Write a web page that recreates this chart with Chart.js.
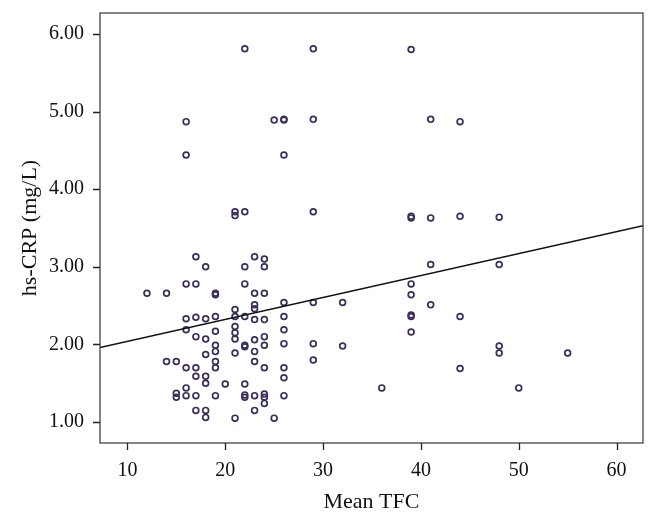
<!DOCTYPE html>
<html lang="en">
<head>
<meta charset="utf-8">
<title>hs-CRP vs Mean TFC</title>
<script src="https://cdn.jsdelivr.net/npm/chart.js@4/dist/chart.umd.min.js"></script>
<style>
html, body { margin: 0; padding: 0; background: #fff; }
#wrap { width: 658px; height: 520px; }
</style>
</head>
<body>
<div id="wrap"><canvas id="chart" width="658" height="520"></canvas></div>
<script>
// Mean TFC (x) and hs-CRP in mg/L (y)
const tfc = [
  22, 29, 39,
  16, 25, 26, 26, 29, 41, 44,
  16, 26,
  21, 21, 22, 29, 39, 39, 41, 44, 48,
  17, 18, 22, 23, 24, 24,
  16, 17, 22, 12, 14, 19, 19, 23, 24,
  26, 29, 32, 23, 23, 21, 21, 22, 23, 24, 26,
  16, 17, 18, 19, 16, 21, 21, 21, 26,
  17, 18, 19, 19, 19, 19, 19, 22, 22, 23, 24, 24, 26, 29, 32,
  23, 21, 18, 14, 15, 16, 17, 23, 24, 26, 29,
  17, 18, 18, 20, 22, 26,
  16, 15, 15, 16, 17, 19, 22, 22, 23, 24, 24, 24, 26,
  17, 18, 18, 21, 23, 25,
  41, 48, 39, 39, 41, 39, 39, 44, 39, 48, 48, 55, 44, 36, 50
];
const crp = [
  5.81, 5.81, 5.80,
  4.87, 4.89, 4.90, 4.89, 4.90, 4.90, 4.87,
  4.44, 4.44,
  3.71, 3.66, 3.71, 3.71, 3.65, 3.63, 3.63, 3.65, 3.64,
  3.13, 3.00, 3.00, 3.13, 3.10, 3.00,
  2.78, 2.78, 2.78, 2.66, 2.66, 2.66, 2.64, 2.66, 2.66,
  2.54, 2.54, 2.54, 2.51, 2.46, 2.45, 2.36, 2.36, 2.32, 2.32, 2.36,
  2.33, 2.35, 2.33, 2.36, 2.19, 2.23, 2.15, 2.07, 2.19,
  2.10, 2.07, 2.17, 1.99, 1.91, 1.78, 1.70, 1.99, 1.97, 2.06, 2.10, 1.99, 2.01, 2.01, 1.98,
  1.91, 1.89, 1.87, 1.78, 1.78, 1.70, 1.70, 1.78, 1.70, 1.70, 1.80,
  1.59, 1.59, 1.50, 1.49, 1.49, 1.57,
  1.44, 1.37, 1.32, 1.34, 1.34, 1.34, 1.35, 1.32, 1.34, 1.36, 1.32, 1.24, 1.34,
  1.15, 1.15, 1.06, 1.05, 1.15, 1.05,
  3.03, 3.03, 2.78, 2.64, 2.51, 2.38, 2.36, 2.36, 2.16, 1.98, 1.89, 1.89, 1.69, 1.44, 1.44
];
// fitted line end points (x, y)
const fitX = [7.2, 62.7];
const fitY = [1.96, 3.53];

const xTicks = [10, 20, 30, 40, 50, 60];
const yTicks = [1, 2, 3, 4, 5, 6];

const serif = '"Liberation Serif", "DejaVu Serif", serif';
const ink = '#3b2d5c';

// box round the plot area plus small outward tick marks
const frame = {
  id: 'frame',
  afterDraw(chart) {
    const a = chart.chartArea, c = chart.ctx;
    const xs = chart.scales.x, ys = chart.scales.y;
    c.save();
    c.strokeStyle = '#444';
    c.lineWidth = 1.3;
    c.strokeRect(a.left, a.top, a.right - a.left, a.bottom - a.top);
    c.lineWidth = 1.3;
    c.strokeStyle = '#222';
    c.beginPath();
    xTicks.forEach(v => {
      const px = Math.round(xs.getPixelForValue(v)) + 0.5;
      c.moveTo(px, a.bottom);
      c.lineTo(px, a.bottom + 7);
    });
    yTicks.forEach(v => {
      const py = Math.round(ys.getPixelForValue(v)) + 0.5;
      c.moveTo(a.left, py);
      c.lineTo(a.left - 7, py);
    });
    c.stroke();
    c.restore();
  }
};

new Chart(document.getElementById('chart'), {
  type: 'scatter',
  data: {
    datasets: [
      {
        label: 'hs-CRP',
        data: tfc.map((x, i) => ({x: x, y: crp[i]})),
        pointRadius: 2.9,
        pointBorderWidth: 1.7,
        pointBorderColor: ink,
        pointBackgroundColor: 'rgba(0,0,0,0)',
        order: 2
      },
      {
        label: 'fit',
        type: 'line',
        data: fitX.map((x, i) => ({x: x, y: fitY[i]})),
        borderColor: '#111',
        borderWidth: 1.4,
        pointRadius: 0,
        fill: false,
        order: 1
      }
    ]
  },
  plugins: [frame],
  options: {
    responsive: false,
    animation: false,
    layout: {padding: {top: 13, right: 15, left: 0, bottom: 0}},
    plugins: {legend: {display: false}, tooltip: {enabled: false}},
    scales: {
      x: {
        type: 'linear',
        min: 7.2,
        max: 62.7,
        afterBuildTicks: s => { s.ticks = xTicks.map(v => ({value: v})); },
        afterFit: s => { s.height = 77; s.paddingLeft = 0; s.paddingRight = 0; },
        grid: {display: false, tickLength: 7},
        border: {display: false},
        ticks: {color: '#111', font: {family: serif, size: 20}, padding: 9, maxRotation: 0},
        title: {display: true, text: 'Mean TFC', color: '#111', font: {family: serif, size: 22}, padding: {top: 2, bottom: 5}}
      },
      y: {
        type: 'linear',
        min: 0.73,
        max: 6.27,
        afterBuildTicks: s => { s.ticks = yTicks.map(v => ({value: v})); },
        afterFit: s => { s.width = 100; s.paddingTop = 0; s.paddingBottom = 0; },
        grid: {display: false, tickLength: 7},
        border: {display: false},
        ticks: {color: '#111', font: {family: serif, size: 20}, padding: 9, callback: v => v.toFixed(2)},
        title: {display: true, text: 'hs-CRP (mg/L)', color: '#111', font: {family: serif, size: 22}, padding: {top: 17, bottom: 4}}
      }
    }
  }
});
</script>
</body>
</html>
